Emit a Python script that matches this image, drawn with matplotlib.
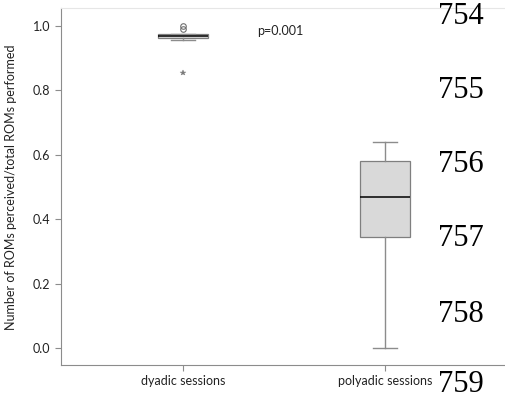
import matplotlib
matplotlib.use("Agg")
import matplotlib.pyplot as plt

plt.rcParams['font.family'] = ['Lato', 'DejaVu Sans']

# Summary statistics
groups = ["dyadic sessions", "polyadic sessions"]
q1 = [0.962, 0.345]
median = [0.969, 0.469]
q3 = [0.975, 0.582]
whisker_lo = [0.957, 0.0]
whisker_hi = [0.976, 0.641]
outliers_circle = [[1.0, 0.992], []]
outliers_star = [[0.855], []]
line_numbers = ["754", "755", "756", "757", "758", "759"]
line_number_y = [17, 91, 165, 239, 314, 385]  # pixel rows on the page

fig = plt.figure(figsize=(5.06, 4.01), dpi=100)
ax = fig.add_axes([61 / 506, 1 - 365 / 401, 1 - 61 / 506, (365 - 8) / 401])

stats = []
for i, g in enumerate(groups):
    stats.append(dict(med=median[i], q1=q1[i], q3=q3[i],
                      whislo=whisker_lo[i], whishi=whisker_hi[i],
                      fliers=[], label=g))

ax.bxp(stats, positions=[0, 1], widths=0.25, patch_artist=True,
       boxprops=dict(facecolor='#d9d9d9', edgecolor='#7f7f7f', lw=0.9),
       medianprops=dict(color='black', lw=1.1),
       whiskerprops=dict(color='#8c8c8c', lw=1),
       capprops=dict(color='#8c8c8c', lw=1),
       capwidths=0.12)

for i in range(len(groups)):
    if outliers_circle[i]:
        ax.plot([i] * len(outliers_circle[i]), outliers_circle[i], 'o',
                mfc='none', mec='#707070', ms=4, mew=0.8)
    if outliers_star[i]:
        ax.plot([i] * len(outliers_star[i]), outliers_star[i], '*',
                color='#7a7a7a', ms=4, mew=0.3)

ax.text(0.492, 0.936, "p=0.001", transform=ax.transAxes, fontsize=9,
        ha='center', va='center', color='#222222')

ax.set_xlim(-0.604, 1.6)
ax.set_ylim(-0.0528, 1.056)
ax.set_yticks([0.0, 0.2, 0.4, 0.6, 0.8, 1.0])
ax.set_yticklabels(["0.0", "0.2", "0.4", "0.6", "0.8", "1.0"])
ax.set_ylabel("Number of ROMs perceived/total ROMs performed", fontsize=9, color='#222222')
ax.yaxis.set_label_coords(-0.099, 0.497)

for s in ['left', 'bottom']:
    ax.spines[s].set_color('#8c8c8c')
ax.spines['top'].set_color('#e6e6e6')
ax.spines['right'].set_visible(False)
ax.tick_params(axis='both', colors='#8c8c8c', labelcolor='#222222', labelsize=9, length=4)

for txt, yp in zip(line_numbers, line_number_y):
    fig.text(461 / 506, 1 - yp / 401, txt, fontsize=22, family='Liberation Serif',
             ha='center', va='center', color='black')

fig.savefig("out.png", dpi=100)
